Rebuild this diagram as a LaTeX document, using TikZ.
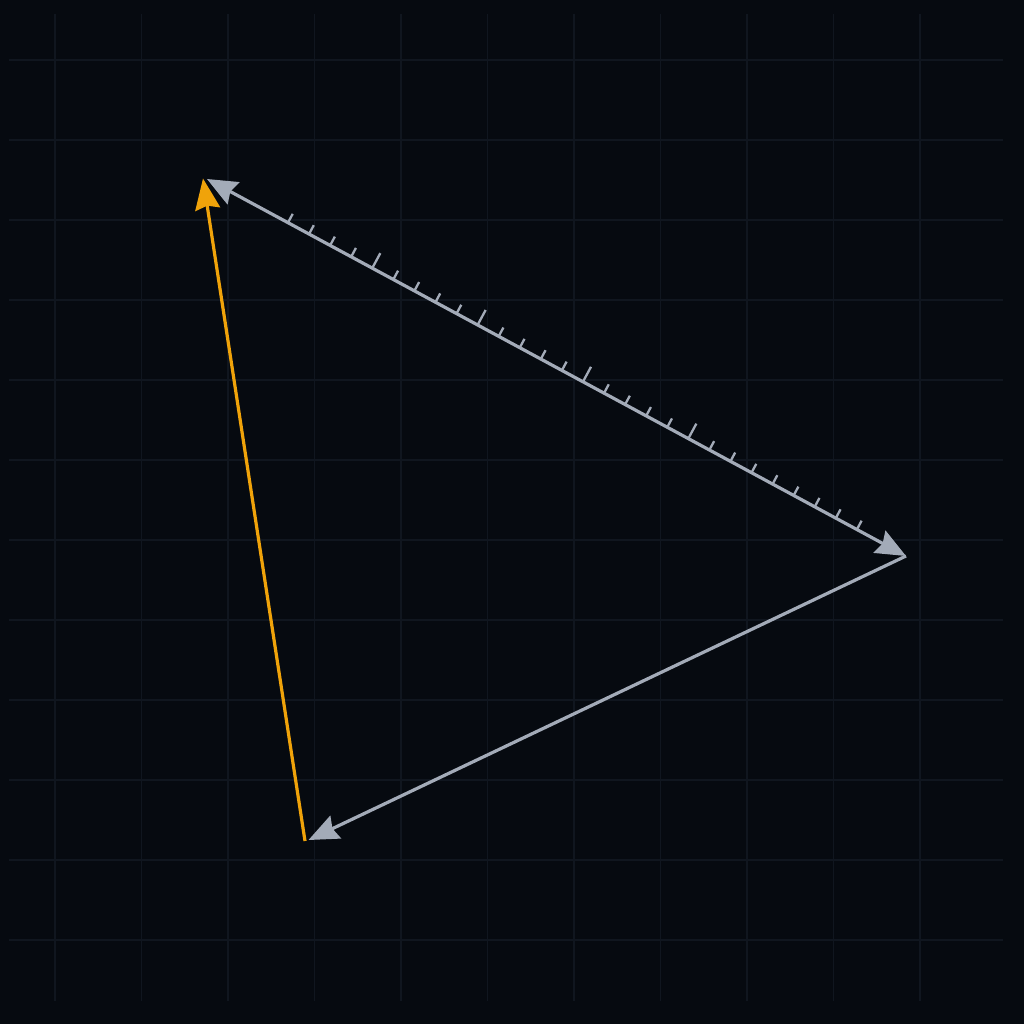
\documentclass[tikz,border=0pt]{standalone}
\usetikzlibrary{arrows.meta,calc}
\definecolor{bgc}{HTML}{060A10}
\definecolor{gridc}{HTML}{10161F}
\definecolor{edgegray}{HTML}{A3ABB8}
\definecolor{edgeyellow}{HTML}{F0A30A}
\tikzset{
  gridline/.style={draw=gridc, line width=1.1pt},
  grayedge/.style={draw=edgegray, line width=3.2pt},
  yellowedge/.style={draw=edgeyellow, line width=3.2pt},
  tipg/.tip={Stealth[length=30pt,width=25pt,inset=3.5pt]},
  tickmark/.style={draw=edgegray, line width=2.3pt}
}
\begin{document}
\begin{tikzpicture}[x=1pt,y=-1pt]
\fill[bgc] (0,0) rectangle (1024,1024);
\useasboundingbox (0,0) rectangle (1024,1024);
% grid
\foreach \i in {0,...,10}{
  \draw[gridline] ({55+86.5*\i},14) -- ({55+86.5*\i},1001);
}
\foreach \j in {0,...,11}{
  \draw[gridline] (9,{60+80*\j}) -- (1003,{60+80*\j});
}
% vertices
\coordinate (Ag) at (207,179);
\coordinate (Ay) at (203,178.5);
\coordinate (B) at (906,556);
\coordinate (Cg) at (308.5,840);
\coordinate (Cy) at (305,841);
% ticks on A-B
\foreach \k in {0,...,27}{
  \pgfmathsetmacro{\dd}{92+23.94*\k}
  \pgfmathtruncatemacro{\mm}{mod(\k,5)}
  \pgfmathtruncatemacro{\islong}{(\mm==4)&&(\k<20)}
  \ifnum\islong=1 \def\tl{17pt}\else\def\tl{10pt}\fi
  \coordinate (P) at ($(Ag)!\dd pt!(B)$);
  \draw[tickmark] (P) -- ($(P)!\tl!90:(B)$);
}
% edges
\draw[grayedge, tipg-tipg] (Ag) -- (B);
\draw[grayedge, -tipg] (B) -- (Cg);
\draw[yellowedge, -{Stealth[length=31pt,width=25pt,inset=3.5pt]}] (Cy) -- (Ay);
\end{tikzpicture}
\end{document}
